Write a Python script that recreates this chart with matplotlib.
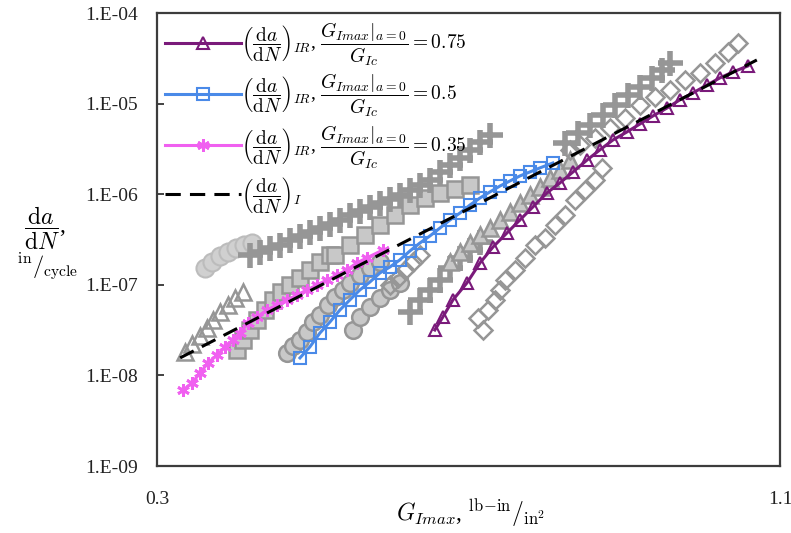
import numpy as np
import matplotlib
matplotlib.use("Agg")
import matplotlib.pyplot as plt
from matplotlib.ticker import FixedLocator, FuncFormatter, NullLocator

plt.rcParams.update({'font.family': 'Liberation Serif', 'mathtext.fontset': 'cm', 'font.size': 14})

# model curves
x_i = [0.3148, 1.0481]
y_i = [1.56e-8, 3.03e-5]

x_035 = [0.3168, 0.3227, 0.3281, 0.3336, 0.3400, 0.3456, 0.3514, 0.3566, 0.3627, 0.3695, 0.3773,
         0.3852, 0.3933, 0.4016, 0.4101, 0.4188, 0.4276, 0.4366, 0.4457, 0.4550, 0.4646, 0.4804]
y_035 = [6.90e-9, 8.24e-9, 1.06e-8, 1.37e-8, 1.68e-8, 2.06e-8, 2.46e-8, 2.94e-8, 3.78e-8, 4.41e-8, 5.27e-8,
         5.98e-8, 6.79e-8, 7.71e-8, 8.76e-8, 9.95e-8, 1.13e-7, 1.28e-7, 1.46e-7, 1.74e-7, 1.98e-7, 2.42e-7]

x_05 = [0.4042, 0.4126, 0.4214, 0.4302, 0.4393, 0.4484, 0.4579, 0.4675, 0.4775, 0.4875, 0.4977, 0.5083,
        0.5190, 0.5300, 0.5413, 0.5526, 0.5643, 0.5762, 0.5883, 0.6007, 0.6133, 0.6262, 0.6394, 0.6528,
        0.6666, 0.6849]
y_05 = [1.56e-8, 2.06e-8, 2.94e-8, 3.88e-8, 5.27e-8, 6.79e-8, 8.76e-8, 1.07e-7, 1.35e-7, 1.57e-7, 1.88e-7,
        2.36e-7, 2.89e-7, 3.46e-7, 4.24e-7, 5.19e-7, 6.20e-7, 7.60e-7, 9.08e-7, 1.06e-6, 1.23e-6, 1.40e-6,
        1.59e-6, 1.76e-6, 1.95e-6, 2.21e-6]

x_075 = [0.5355, 0.5445, 0.5560, 0.5726, 0.5883, 0.6045, 0.6223, 0.6394, 0.6570, 0.6763, 0.6950, 0.7143,
         0.7354, 0.7554, 0.7762, 0.7990, 0.8212, 0.8438, 0.8689, 0.8926, 0.9171, 0.9443, 0.9703, 0.9968,
         1.0285]
y_075 = [3.17e-8, 4.41e-8, 6.79e-8, 1.05e-7, 1.74e-7, 2.61e-7, 3.73e-7, 5.19e-7, 7.23e-7, 1.03e-6, 1.33e-6,
         1.76e-6, 2.38e-6, 3.08e-6, 3.96e-6, 4.85e-6, 5.95e-6, 7.30e-6, 8.93e-6, 1.10e-5, 1.31e-5, 1.60e-5,
         1.92e-5, 2.23e-5, 2.60e-5]

# test data (gray)
x_cross_a = [0.3641, 0.3719, 0.3796, 0.3877, 0.3958, 0.4042, 0.4126, 0.4214, 0.4302, 0.4393, 0.4484, 0.4579,
             0.4675, 0.4775, 0.4875, 0.4977, 0.5083, 0.5190, 0.5300, 0.5413, 0.5526, 0.5643, 0.5762, 0.5883,
             0.6007]
y_cross_a = [2.13e-7, 2.30e-7, 2.55e-7, 2.75e-7, 3.12e-7, 3.46e-7, 3.83e-7, 4.24e-7, 4.69e-7, 5.19e-7, 5.89e-7,
             6.52e-7, 7.23e-7, 8.00e-7, 8.85e-7, 9.79e-7, 1.11e-6, 1.26e-6, 1.44e-6, 1.76e-6, 2.10e-6, 2.51e-6,
             3.08e-6, 3.77e-6, 4.50e-6]

x_circ_a = [0.3316, 0.3365, 0.3421, 0.3478, 0.3536, 0.3596, 0.3656]
y_circ_a = [1.53e-7, 1.79e-7, 2.08e-7, 2.30e-7, 2.55e-7, 2.75e-7, 2.89e-7]

x_tri_a = [0.3180, 0.3227, 0.3281, 0.3330, 0.3372, 0.3421, 0.3478, 0.3529, 0.3589]
y_tri_a = [1.81e-8, 2.22e-8, 2.72e-8, 3.33e-8, 4.08e-8, 5.01e-8, 5.98e-8, 7.14e-8, 8.32e-8]

x_sq_a = [0.3544, 0.3589, 0.3641, 0.3695, 0.3757, 0.3820, 0.3885, 0.3958, 0.4042, 0.4126, 0.4214, 0.4302,
          0.4347, 0.4484, 0.4627, 0.4775, 0.4926, 0.5083, 0.5245, 0.5413, 0.5584, 0.5762]
y_sq_a = [1.91e-8, 2.46e-8, 3.17e-8, 4.08e-8, 5.27e-8, 6.79e-8, 8.32e-8, 9.95e-8, 1.19e-7, 1.46e-7, 1.79e-7,
          2.13e-7, 2.13e-7, 2.75e-7, 3.55e-7, 4.57e-7, 5.89e-7, 7.60e-7, 9.08e-7, 1.03e-6, 1.14e-6, 1.26e-6]

x_circ_b = [0.3933, 0.3983, 0.4042, 0.4101, 0.4152, 0.4214, 0.4284, 0.4347, 0.4420, 0.4484, 0.4579, 0.4675,
            0.4775, 0.4513, 0.4579, 0.4675, 0.4775, 0.4875, 0.4977]
y_circ_b = [1.77e-8, 2.11e-8, 2.46e-8, 3.01e-8, 3.88e-8, 4.64e-8, 5.98e-8, 7.33e-8, 8.76e-8, 1.05e-7, 1.28e-7,
            1.53e-7, 1.79e-7, 3.17e-8, 4.41e-8, 5.69e-8, 7.14e-8, 8.76e-8, 1.05e-7]

x_cross_b = [0.5083, 0.5190, 0.5300, 0.5413, 0.5526, 0.5643, 0.5762, 0.5883]
y_cross_b = [5.01e-8, 6.79e-8, 8.76e-8, 1.13e-7, 1.53e-7, 1.98e-7, 2.42e-7, 2.97e-7]

x_tri_b = [0.5526, 0.5643, 0.5762, 0.5883, 0.6007, 0.6133, 0.6262, 0.6394, 0.6528, 0.6666, 0.6806, 0.6950,
           0.7095]
y_tri_b = [1.79e-7, 2.30e-7, 2.89e-7, 3.55e-7, 4.24e-7, 5.19e-7, 6.36e-7, 8.00e-7, 9.79e-7, 1.20e-6, 1.51e-6,
           1.85e-6, 2.38e-6]

x_dia = [0.4875, 0.4957, 0.5029, 0.5114, 0.5190, 0.5859, 0.5921, 0.5983, 0.6068, 0.6133, 0.6197, 0.6327,
         0.6461, 0.6597, 0.6735, 0.6878, 0.7022, 0.7170, 0.7322, 0.7476, 0.7586,
         0.7095, 0.7245, 0.7476, 0.7713, 0.7957, 0.8212, 0.8472, 0.8741, 0.9020, 0.9307, 0.9601, 0.9865, 1.0072]
y_dia = [9.95e-8, 1.19e-7, 1.46e-7, 1.79e-7, 2.13e-7, 4.30e-8, 3.17e-8, 5.27e-8, 6.79e-8, 8.76e-8, 1.13e-7,
         1.46e-7, 1.98e-7, 2.75e-7, 3.28e-7, 4.57e-7, 5.89e-7, 8.63e-7, 1.11e-6, 1.44e-6, 1.95e-6,
         3.08e-6, 3.49e-6, 4.17e-6, 5.38e-6, 6.93e-6, 9.64e-6, 1.18e-5, 1.41e-5, 1.82e-5, 2.18e-5, 2.81e-5,
         3.72e-5, 4.67e-5]

x_cross_c = [0.7022, 0.7215, 0.7398, 0.7601, 0.7793, 0.8007, 0.8212, 0.8419, 0.8597, 0.8741]
y_cross_c = [3.67e-6, 4.73e-6, 5.81e-6, 7.48e-6, 9.64e-6, 1.24e-5, 1.52e-5, 1.92e-5, 2.35e-5, 2.81e-5]

gray = '#969696'
light = '#c8c8c8'

fig = plt.figure(figsize=(7.91, 5.33), dpi=100)
ax = fig.add_axes([0.1985, 0.1257, 0.7876, 0.8499])

# gray experimental data
ax.plot(x_circ_a, y_circ_a, 'o', ms=13, mfc='#d0d0d0', mec='#bcbcbc', mew=1.5)
ax.plot(x_tri_a, y_tri_a, '^', ms=12, mfc='none', mec=gray, mew=1.8)
ax.plot(x_sq_a, y_sq_a, 's', ms=11, mfc=light, mec=gray, mew=1.8)
ax.plot(x_circ_b, y_circ_b, 'o', ms=12, mfc=light, mec=gray, mew=1.8)
ax.plot(x_cross_a, y_cross_a, '+', ms=18, mec=gray, mew=4)
ax.plot(x_cross_b, y_cross_b, '+', ms=18, mec=gray, mew=4)
ax.plot(x_tri_b, y_tri_b, '^', ms=12, mfc=light, mec=gray, mew=1.8)
ax.plot(x_dia, y_dia, 'D', ms=9, mfc='none', mec=gray, mew=1.8)
ax.plot(x_cross_c, y_cross_c, '+', ms=18, mec=gray, mew=4)

# model curves
frac = r'$\left(\dfrac{\mathrm{d}a}{\mathrm{d}N}\right)_{IR}$, $\dfrac{G_{Imax}|_{a=0}}{G_{Ic}} = %s$'
ax.plot(x_075, y_075, '-', color='#7a1a7a', lw=2.2, marker='^', ms=8, mfc='none', mew=1.5,
        label=frac % '0.75')
ax.plot(x_05, y_05, '-', color='#4a8ae8', lw=2.2, marker='s', ms=8, mfc='none', mew=1.5,
        label=frac % '0.5')
ax.plot(x_035, y_035, '-', color='#f060f0', lw=2.2, marker=(6, 2, 0), ms=9, mew=2,
        label=frac % '0.35')
ax.plot(x_i, y_i, '--', color='black', lw=2.2, dashes=(5, 3),
        label=r'$\left(\dfrac{\mathrm{d}a}{\mathrm{d}N}\right)_{I}$')

ax.set_xscale('log')
ax.set_yscale('log')
ax.set_xlim(0.3, 1.1)
ax.set_ylim(1e-9, 1e-4)

ax.xaxis.set_major_locator(FixedLocator([0.3, 1.1]))
ax.xaxis.set_major_formatter(FuncFormatter(lambda v, p: f'{v:.1f}'))
ax.xaxis.set_minor_locator(NullLocator())
ax.yaxis.set_major_locator(FixedLocator([1e-9, 1e-8, 1e-7, 1e-6, 1e-5, 1e-4]))
ax.yaxis.set_major_formatter(FuncFormatter(lambda v, p: '1.E-%02d' % round(-np.log10(v))))
ax.yaxis.set_minor_locator(NullLocator())
ax.tick_params(axis='y', direction='in', length=5, width=1.2, pad=14, labelsize=14, colors='#222222')
ax.tick_params(axis='x', length=0, pad=18, labelsize=14, colors='#222222')
for s in ax.spines.values():
    s.set_color('#3c3c3c')
    s.set_linewidth(1.6)

ax.legend(loc='upper left', frameon=False, fontsize=14, handlelength=3.9, labelspacing=0.2,
          handletextpad=0.0, borderaxespad=0.0, bbox_to_anchor=(0.0, 1.0))

fig.text(0.057, 0.572, r'$\dfrac{\mathrm{d}a}{\mathrm{d}N}$,', fontsize=17, ha='center', va='center')
fig.text(0.060, 0.500, r'$^{\mathrm{in}}/_{\mathrm{cycle}}$', fontsize=16, ha='center', va='center')
fig.text(0.595, 0.035, r'$G_{Imax}$, $^{\mathrm{lb\!-\!in}}/_{\mathrm{in}^2}$', fontsize=17, ha='center', va='center')

fig.savefig('out.png', dpi=100)
